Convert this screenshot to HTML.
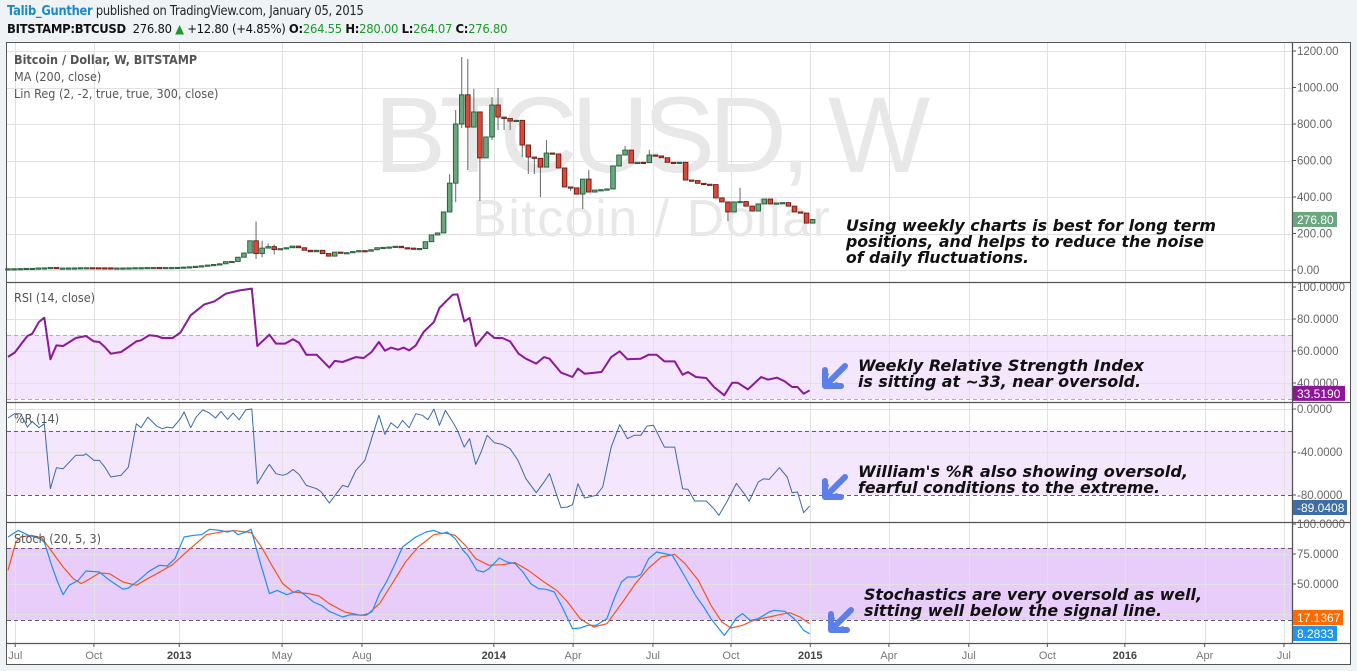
<!DOCTYPE html>
<html><head><meta charset="utf-8"><style>
html,body{margin:0;padding:0;background:#f0f3f6;width:1357px;height:671px;overflow:hidden;font-family:"Liberation Sans",sans-serif}
#hdr1{position:absolute;left:7px;top:3px;font-size:13.5px;color:#222;font-family:"DejaVu Sans",sans-serif;letter-spacing:-0.3px;transform:scaleX(0.85);transform-origin:0 0;white-space:nowrap}
#hdr1 b{color:#1a8ac6;font-weight:bold}
#hdr2{position:absolute;left:7px;top:21px;font-size:12.5px;color:#111;font-family:"DejaVu Sans",sans-serif;letter-spacing:-0.3px;transform:scaleX(0.93);transform-origin:0 0;white-space:nowrap}
.g{color:#1a9a2a}
svg{position:absolute;left:0;top:0}
</style></head><body>
<div id="hdr1"><b>Talib_Gunther</b> published on TradingView.com, January 05, 2015</div>
<div id="hdr2"><b>BITSTAMP:BTCUSD</b>&nbsp; 276.80 <span class="g">▲</span> +12.80 (+4.85%) <b>O:</b><span class="g">264.55</span> <b>H:</b><span class="g">280.00</span> <b>L:</b><span class="g">264.07</span> <b>C:</b><span class="g">276.80</span></div>
<svg id="chart" width="1357" height="671" xmlns="http://www.w3.org/2000/svg"></svg>
<script>
// ---------- DATA ----------
const closes=[6.7,7.0,7.6,8.9,8.9,10.9,11.5,13.5,10.2,10.6,11.0,11.2,12.3,12.4,12.1,11.8,11.7,10.8,10.9,10.9,11.5,12.4,12.5,13.4,13.5,13.4,13.5,13.5,
14.2,16,17.5,20.4,23,27,30,34,46,47,70,93,160,90,120,128,112,117,122,131,122,108,100,108,90,76,98,93,95,101,106,103,111,122,124,126,130,122,
120,115,118,155,192,203,318,476,800,960,783,866,614,729,904,838,830,816,820,685,619,612,564,641,636,559,455,450,416,498,427,438,440,444,570,630,657,586,590,588,630,625,615,590,585,590,493,490,475,470,468,395,373,318,373,375,350,323,362,389,362,367,369,350,318,312,257,277];
const firstOpen=6.5;
const highIdx=[41,42,43,44,73,74,75,76,77,80,81,89,96,102,106,121];
const highVal=[266,160,145,140,525,877,1167,1156,992,948,997,712,548,679,657,450];
const lowIdx=[41,42,44,74,75,76,78,80,81,82,83,85,86,87,88,93,95,119];
const lowVal=[60,70,85,372,778,548,378,712,767,767,767,619,526,526,400,433,334,268];
const priceTicks=[0,200,400,600,800,1000,1200];
const rsiWeeks=[0,1.1,2.1,3.2,4,5.1,6,7,8,9.1,11.2,12.9,14.2,15.1,16,17,18.7,19.9,21.2,22,23.3,24.6,25.5,27.2,28.5,30.2,32.4,34.1,36,38.3,40.3,41.2,43.2,44.3,45.8,47.1,48.1,49.3,51,53.1,54,55.3,57.5,58.8,60.1,61.3,62.3,63.3,64.5,65.4,66.3,67.4,68.7,70.4,71.3,73.5,74.3,75.4,76.3,77.3,79.2,80.4,81.7,83,84.4,85.6,87.3,88.6,89.5,91.4,93.3,94.2,95.3,98.1,99.7,101.1,102.4,104.6,105.9,107.2,108.5,110.2,111.5,112.4,113.7,115.4,116.7,118.4,119.7,120.6,122.3,124.5,125.6,127.1,128.4,129.6,130.5,131.5,132.5];
const rsiVals=[56.3,59,64,69.4,70.8,78.1,80.8,54.8,63.5,63.1,68.1,69.4,66,65.6,62.5,58.3,59.4,62.5,66,66.7,69.8,69.4,68.1,68.1,71.5,82.3,89,91,95.8,97.9,99,63.1,70.2,64.6,64.6,67.3,65.2,57.7,57.7,49.6,53.8,53.1,56.2,55.6,59.4,65.6,60.2,62.1,60.8,62.1,60.4,63.5,71.9,78.1,86.9,95.2,95.4,78.5,80.6,63.1,71.9,68.1,68.1,66,58.3,55.2,52.1,56.2,55.2,46.5,43.75,49,45.8,46.9,56.2,59.8,54.8,55.2,57.7,57.7,53.5,53.5,45.2,46.9,43.75,43.1,37.5,32.3,40.2,40.2,36,43.75,42.1,43.3,41,37.5,37.5,33.3,35.4];
const wrWeeks=[0,1.1,2.1,3.2,4,5.1,6,7,8,9.1,11.2,12.5,12.9,14.2,15.1,16,17,18.7,19.9,21.2,22,23.1,24.6,25.5,26.3,27.2,28.5,29.1,30.2,31.1,32.2,33.3,34.3,35.2,36.3,37.2,38.2,39.3,40.3,41.2,42.3,43.2,44.3,45.4,46.2,47.1,48.1,49.3,51,51.8,53.1,55.3,56.2,57.5,59,60.1,61.3,62.3,63.3,64.4,65.2,66.3,67.4,68.5,69.4,70.4,71.3,72.3,73.5,74.3,75.4,76.3,77.3,78.2,79.2,80.4,81.7,83,84.3,85.6,87.3,88.6,89.5,91.4,92.5,93.3,94.2,95.3,97.2,98.3,99.7,101.1,102.4,103.5,104.6,105.6,106.7,108.5,110.2,111.5,112.4,113.5,115.4,116.7,117.5,118.8,120.4,121.9,122.5,124,124.9,125.8,127.5,128.8,129.6,130.5,131.5,132.5];
const wrVals=[-8.4,-4.4,-4.4,-16.8,-11.5,-17.4,-13.7,-74.1,-54.6,-55.5,-43.1,-43.1,-41.6,-47.8,-47.8,-54,-63.3,-61.7,-54,-13.7,-17.4,-7.5,-15.9,-18.3,-16.8,-17.7,-9,-2.8,-17.4,-7.5,-0.7,-3.8,-8.4,-2.2,-9.7,-3.8,-10,-0.7,0,-69.5,-59.3,-51.5,-60.2,-61.7,-60.2,-56.2,-60.8,-71.1,-74.1,-77.2,-87.5,-71.1,-72.6,-57.1,-47.8,-27.6,-5.9,-23.6,-12.8,-17.7,-10.6,-17.4,-4.4,-5.9,-10,0,-15.2,-1.3,-12.1,-19.9,-35.4,-27.6,-51.5,-40,-24.5,-31.4,-32.9,-36.9,-47.8,-64.8,-77.9,-68,-60.2,-91.8,-91.2,-89,-69.5,-82.8,-80.3,-72.6,-35.4,-14.6,-27.6,-24.5,-24.5,-15.9,-15.2,-35.4,-35.4,-74.1,-74.8,-85.6,-85.6,-92.8,-99,-86.6,-69.2,-80.3,-85.9,-68,-64.8,-65.5,-54.6,-63.3,-77.9,-77.2,-96.5,-90.3];
const kWeeks=[0,1.7,3.4,5.2,6,7.2,8.2,9.1,10.1,11.6,12.9,15.1,16.8,19,19.9,21.6,23.3,25,26.3,27.6,29.1,30.7,32,33.3,35,36.3,37.2,38,39.3,40.2,41.5,43.2,44.5,46.1,48,49.3,50.5,51.8,53.1,55.3,56.6,59.2,60.2,61.4,62.6,64,65.2,67.4,69.1,70.4,71.7,72.6,73.9,75.2,76,77.5,78.6,79.5,81.2,82.5,83.8,85.1,86.4,87.7,89,90.3,91.6,93.3,94.6,95.9,97.2,99,100.3,101.4,102.4,103.7,104.6,105.9,107.2,108.5,109.8,111.1,112.4,113.7,115,116.2,118.4,119.3,120.4,121.4,122.7,124,125.8,126.6,128.4,129.6,130.5,131.5,132.5];
const kVals=[89.2,94.7,90.6,87.8,85,65.6,51.7,41.1,48.9,53.1,60.8,60,53.1,45.6,46.7,53.1,60.6,65.6,65,71.1,89.2,90.6,91.1,95.6,94.7,93.3,94.7,91.1,93.3,95.6,71.1,42,44.7,41.1,44.7,40,35,32.2,27.2,22.5,24.4,23.9,27.2,42,52.2,67,80.8,89.2,93.3,94.7,92,93.3,87.8,78.1,73.9,61.4,60,62.8,71.7,68.3,67,60,50.3,46.1,45.6,43.3,30.8,12.8,13.3,15.6,15.6,21.1,39.2,51.7,55.8,55.8,57.8,71.1,76.7,75.3,73.9,62.8,51.7,40,30.8,21.1,7.2,13.3,21.7,25.3,19.7,21.1,26.7,28.1,27.2,22.5,18.3,11.4,8.6];
const dWeeks=[0,1.3,2.1,3.9,5.6,7.3,9.1,10.8,12.1,13.4,15.1,16.8,19,21.2,22.9,24.6,27.2,29.8,32.8,35.9,37.6,40.2,41.9,43.6,45.4,47.1,49.7,51.4,53.1,55.7,58.3,59.6,61.4,63.5,65.7,67.8,70.4,72.2,73.9,75.6,77.3,79.5,81.7,83.8,86,88.6,90.7,92.5,94.6,96.8,99,101.6,103.7,105.9,108,110.2,111.9,114.1,116.2,118,119.5,121.4,123.2,125.8,127.5,129.2,130.9,132.5];
const dVals=[61.4,85,89.2,90.6,88.3,76.7,64.2,54.4,50.3,53.9,59.2,58.6,51.7,48.9,53.9,58.6,66.1,78.1,91.1,93.9,94.4,92.8,80.8,65.6,50.3,43.3,42,40,33.6,26.7,23.9,25.3,33.6,50.3,68.3,80.8,91.1,92.5,90.6,82.2,71.1,65.6,66.1,67.8,61.4,51.7,44.7,35,21.1,14.2,16.9,35,50.3,63.3,72.5,74.7,67,53.1,32.2,18.3,13.3,15.6,19.7,22.5,24.4,26.1,22.5,17];
const dateLabels=["Jul","Oct","2013","May","Aug","2014","Apr","Jul","Oct","2015","Apr","Jul","Oct","2016","Apr","Jul"];
const dateWeeks=[1.2,14.2,28.3,45.3,58.5,80.3,93.4,106.6,119.5,132.6,145.6,158.8,171.8,184.6,197.8,210.9];
const dateBold=[0,0,1,0,0,1,0,0,0,1,0,0,0,1,0,0];

// ---------- SCALES ----------
const X=i=>8+i*6.05;
const yP=p=>270-p*0.1825;
const yR=v=>287+(100-v)*1.6;
const yW=v=>409-v*1.075;
const yS=v=>524+(100-v)*1.2;
const L=7,R=1292;
const svg=document.getElementById('chart');
const NS='http://www.w3.org/2000/svg';
function mk(tag,attrs,parent){const e=document.createElementNS(NS,tag);for(const k in attrs)e.setAttribute(k,attrs[k]);(parent||svg).appendChild(e);return e;}
function txt(s,attrs,parent){const e=mk('text',attrs,parent);e.textContent=s;return e;}

let f=mk('rect',{x:6.5,y:42.5,width:1344,height:622,fill:'#fff',stroke:'#555','stroke-width':1});



let b1=mk('rect',{x:L,y:yR(70),width:R-L,height:yR(30)-yR(70),fill:'#f4e6fc'});


let b2=mk('rect',{x:L,y:yW(-20),width:R-L,height:yW(-80)-yW(-20),fill:'#f4e6fc'});


let b3=mk('rect',{x:L,y:yS(80),width:R-L,height:yS(20)-yS(80),fill:'#e8cdfb'});



const grid=mk('g',{stroke:'#e2e2e2','stroke-width':1});


dateWeeks.forEach(w=>{const x=Math.round(X(w))+0.5;if(x<R)mk('line',{x1:x,x2:x,y1:43,y2:643},grid);});
priceTicks.forEach(p=>{const y=Math.round(yP(p))+0.5;mk('line',{x1:L,x2:R,y1:y,y2:y},grid);});
[80,60,40].forEach(v=>{const y=Math.round(yR(v))+0.5;mk('line',{x1:L,x2:R,y1:y,y2:y},grid);});
[0,-40].forEach(v=>{const y=Math.round(yW(v))+0.5;mk('line',{x1:L,x2:R,y1:y,y2:y},grid);});
[75,50,25].forEach(v=>{const y=Math.round(yS(v))+0.5;mk('line',{x1:L,x2:R,y1:y,y2:y},grid);});

[[yR(70),'#b8a8c0'],[yR(30),'#b8a8c0'],[yW(-20),'#6a5a70'],[yW(-80),'#6a5a70'],[yS(80),'#6a5a70'],[yS(20),'#6a5a70']].forEach(([y,c])=>{
 const l=mk('line',{x1:L,x2:R,y1:Math.round(y)+0.5,y2:Math.round(y)+0.5,stroke:c,'stroke-dasharray':'4,3'});
 
 
});

let wm1=txt('BTCUSD, W',{x:652,y:172,'text-anchor':'middle','font-size':108,fill:'#e8e8e8','font-family':'"Liberation Sans",sans-serif',textLength:556});


let wm2=txt('Bitcoin / Dollar',{x:651,y:236,'text-anchor':'middle','font-size':52,fill:'#e8e8e8','font-family':'"Liberation Sans",sans-serif',textLength:358});



[282,402,522,643].forEach(y=>{const l=mk('line',{x1:L,x2:1350,y1:y+0.5,y2:y+0.5,stroke:'#555','stroke-width':1.3});});
let ax=mk('line',{x1:R+0.5,x2:R+0.5,y1:43,y2:643,stroke:'#555','stroke-width':1.3});



const cg=mk('g',{});


closes.forEach((c,i)=>{
 const o=i===0?firstOpen:closes[i-1];
 const hiK=highIdx.indexOf(i),loK=lowIdx.indexOf(i);
 const hi=hiK>=0?highVal[hiK]:Math.max(o,c);
 const lo=loK>=0?lowVal[loK]:Math.min(o,c);
 const x=X(i),up=c>=o;
 const g=mk('g',{},cg);
 
 
 if(hi>Math.max(o,c)||lo<Math.min(o,c)) mk('line',{x1:x,x2:x,y1:yP(hi),y2:yP(lo),stroke:'#666','stroke-width':1},g);
 const yt=yP(Math.max(o,c)),yb=yP(Math.min(o,c));
 mk('rect',{x:x-2.3,y:yt,width:4.6,height:Math.max(1.2,yb-yt),fill:up?'#6aa77f':'#d8493a',stroke:up?'#1f5a35':'#6e1a12','stroke-width':0.9},g);
});

function poly(ws,vs,sc,color,w,name){
 const p=mk('polyline',{points:ws.map((wk,k)=>X(wk).toFixed(1)+','+sc(vs[k]).toFixed(1)).join(' '),fill:'none',stroke:color,'stroke-width':w,'stroke-linejoin':'round'});
 
 
}
poly(rsiWeeks,rsiVals,yR,'#8b1a9a',2,'rsi-line');
poly(wrWeeks,wrVals,yW,'#3a6aac',1,'williams-r-line');
poly(dWeeks,dVals,yS,'#f0561e',1.2,'stoch-d-line');
poly(kWeeks,kVals,yS,'#1e90f0',1.2,'stoch-k-line');

const lg=[['Bitcoin / Dollar, W, BITSTAMP',64,'bold','price-legend'],['MA (200, close)',81,'normal','ma-legend'],['Lin Reg (2, -2, true, true, 300, close)',98,'normal','linreg-legend'],['RSI (14, close)',302,'normal','rsi-legend'],['%R (14)',423,'normal','williams-legend'],['Stoch (20, 5, 3)',543,'normal','stoch-legend']];
lg.forEach(([s,y,fw,n])=>{const t=txt(s,{x:14,y:y,'font-size':12.5,'font-weight':fw,fill:'#555','font-family':'"DejaVu Sans Condensed","DejaVu Sans",sans-serif'});});

function axLabel(s,y,name){
 mk('line',{x1:R,x2:R+4,y1:y,y2:y,stroke:'#555'});
 const t=txt(s,{x:R+5,y:y+4,'font-size':11.5,fill:'#666','font-family':'"Liberation Sans",sans-serif'});
 
 
}
priceTicks.forEach(p=>axLabel(p.toFixed(2),yP(p),'price-tick'));
[100,80,60,40].forEach(v=>axLabel(v.toFixed(4),yR(v),'rsi-tick'));
[0,-40,-80].forEach(v=>axLabel(v.toFixed(4),yW(v),'williams-tick'));
[100,75,50].forEach(v=>axLabel(v.toFixed(4),yS(v),'stoch-tick'));

function tag(s,y,bg,w,name){
 const g=mk('g',{});
 
 
 mk('rect',{x:R+1,y:y-7.5,width:w,height:15,fill:bg},g);
 txt(s,{x:R+5,y:y+4.5,'font-size':12,fill:'#fff','font-family':'"Liberation Sans",sans-serif'},g);
}
tag('276.80',yP(closes[closes.length-1]),'#6aa77f',44,'last-price-tag');
tag('33.5190',yR(33.519),'#8e1599',52,'rsi-value-tag');
tag('-89.0408',507.5,'#3c6ea5',54,'williams-value-tag');
tag('17.1367',617.5,'#ff6a00',50,'stoch-d-tag');
tag('8.2833',633.5,'#1e96f0',44,'stoch-k-tag');

dateLabels.forEach((s,k)=>{const x=X(dateWeeks[k]);
 mk('line',{x1:x,x2:x,y1:643,y2:647,stroke:'#555'});
 const t=txt(s,{x:x,y:659,'text-anchor':'middle','font-size':11,'font-weight':dateBold[k]?'bold':'normal',fill:dateBold[k]?'#444':'#777','font-family':'"Liberation Sans",sans-serif'});
 
 
});

function note(lines,x,y0,lh,widths,name){
 const g=mk('g',{});
 
 
 lines.forEach((s,k)=>txt(s,{x:x,y:y0+k*lh,'font-size':16,'font-weight':'bold','font-style':'italic',fill:'#111','font-family':'"DejaVu Sans",sans-serif',textLength:widths[k],lengthAdjust:'spacingAndGlyphs'},g));
}
note(['Using weekly charts is best for long term','positions, and helps to reduce the noise','of daily fluctuations.'],846,231,16,[370,358,183],'note-weekly');
note(['Weekly Relative Strength Index','is sitting at ~33, near oversold.'],858,371,16,[286,283],'note-rsi');
note(['William\'s %R also showing oversold,','fearful conditions to the extreme.'],858,477,16,[330,302],'note-williams');
note(['Stochastics are very oversold as well,','sitting well below the signal line.'],864,600,16,[338,298],'note-stoch');

function arrow(x,y,name){
 const g=mk('g',{transform:'translate('+x+','+y+')'});
 
 
 mk('path',{d:'M20,-10 L4,6',stroke:'#5a7fe8','stroke-width':6,'stroke-linecap':'round'},g);
 mk('path',{d:'M0,10 L0,-6 L4,-2 Z M0,10 L16,10 L12,6 Z',fill:'#5a7fe8'},g);
 mk('path',{d:'M0,10 L0,-6 M0,10 L16,10',stroke:'#5a7fe8','stroke-width':6,'stroke-linecap':'round'},g);
}
arrow(825,376,'rsi-arrow');
arrow(825,487,'williams-arrow');
arrow(831,620,'stoch-arrow');
</script>
</body></html>
